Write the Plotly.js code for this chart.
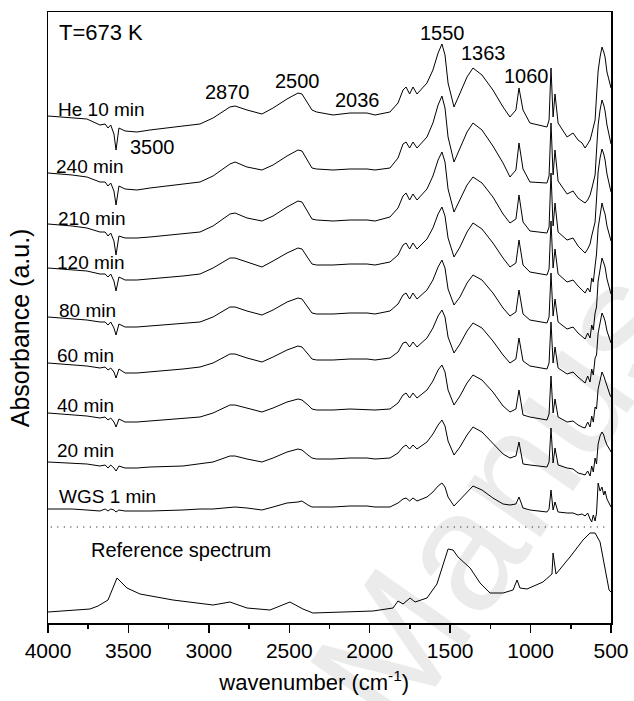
<!DOCTYPE html>
<html><head><meta charset="utf-8">
<script src="https://cdn.plot.ly/plotly-3.0.1.min.js"></script>
<style>html,body{margin:0;padding:0;background:#fff}#chart{width:634px;height:701px}</style>
</head><body><div id="chart"></div>
<script>
// wavenumber grid (cm-1) shared by the stacked in-situ spectra
const wavenumber = [4000,3850,3758,3677,3645,3627,3610,3590,3577,3559,3521,3447,3366,3161,3055,2974,2869,2837,2763,2670,2601,2514,2446,2421,2384,2359,2330,2228,2123,2017,1967,1874,1824,1793,1774,1752,1731,1706,1644,1607,1575,1551,1532,1513,1476,1439,1395,1358,1302,1234,1171,1128,1091,1072,1047,1004,898,885,873,860,848,829,773,736,705,680,661,645,630,620,610,599,590,580,568,556,545,537,525,506,500];

// absorbance (a.u.), relative to each spectrum's value at 4000 cm-1
const he10min = [0,-2,-3,-9,-8,-12,-9,-18,-34,-12,-15,-16,-14,-10,-8,-2,9,10,6,2,8,17,23,22,13,6,4,1,3,3,1,4,13,26,29,22,29,22,33,46,63,72,61,33,9,23,39,48,41,26,9,-1,6,28,6,-7,-11,-4,48,-1,22,-7,-21,-17,-24,-27,-32,-28,-24,-18,-10,-4,20,45,59,69,64,59,44,31,28];
const min240 = [0,-2,-4,-9,-9,-13,-10,-18,-32,-13,-16,-17,-15,-11,-9,-3,9,11,6,3,8,17,23,22,12,5,4,3,4,4,3,5,15,29,31,25,31,25,36,50,68,77,65,36,11,25,41,50,43,27,10,-4,3,30,4,-9,-10,-3,50,-2,23,-8,-21,-18,-25,-28,-30,-27,-22,-16,-8,-2,22,48,63,73,68,62,48,33,29];
const min210 = [0,-2,-4,-8,-8,-12,-9,-17,-31,-12,-14,-14,-13,-10,-8,-2,10,11,6,3,8,17,23,22,12,5,4,3,4,4,3,7,16,28,31,24,30,24,35,48,64,72,62,35,12,24,39,47,41,27,10,1,5,29,2,-7,-9,-3,51,-2,21,-8,-16,-14,-22,-26,-29,-25,-20,-12,-6,2,25,52,66,75,70,64,50,36,32];
const min120 = [0,-2,-3,-6,-6,-9,-6,-13,-23,-9,-12,-12,-11,-8,-6,0,10,10,6,1,7,15,20,19,10,4,3,3,4,4,3,6,13,23,25,19,25,19,29,40,54,61,52,30,11,21,36,45,39,25,10,1,5,28,3,-4,-7,-1,47,0,19,-6,-14,-12,-18,-22,-25,-20,-24,-10,-14,2,14,40,55,65,58,54,42,30,27];
const min80 = [0,-2,-3,-5,-5,-8,-5,-11,-18,-7,-10,-10,-9,-7,-5,0,10,10,6,2,7,15,19,18,10,4,3,3,4,4,3,6,13,22,24,18,24,18,27,37,50,57,49,28,12,20,34,42,37,24,9,1,5,27,3,-3,-6,0,44,1,18,-5,-12,-10,-16,-20,-22,-16,-21,-8,-13,4,10,36,50,59,54,50,38,26,23];
const min60 = [0,-2,-3,-5,-4,-7,-5,-9,-15,-6,-10,-10,-9,-6,-4,0,9,9,5,1,6,13,17,16,9,4,3,3,4,4,3,5,11,20,21,16,21,16,25,35,47,53,46,26,10,19,32,40,35,22,8,0,4,25,2,-3,-6,0,41,0,16,-5,-11,-9,-14,-18,-20,-13,-19,-6,-12,5,8,30,42,50,46,42,32,22,20];
const min40 = [0,-2,-3,-5,-4,-7,-5,-9,-14,-6,-9,-9,-8,-6,-4,0,8,8,5,1,5,11,14,13,8,4,3,3,4,3,3,4,10,18,20,15,20,15,23,32,43,48,41,23,8,17,30,38,33,21,7,1,4,23,-2,-4,-7,-1,37,0,14,-4,-9,-8,-12,-14,-15,-9,-14,-3,-9,6,4,24,34,41,37,33,26,18,16];
const min20 = [0,-1,-2,-4,-3,-6,-3,-6,-9,-4,-6,-6,-5,-4,-2,0,6,6,3,0,4,10,13,12,7,4,3,3,4,4,3,4,9,15,17,13,17,13,20,28,37,42,36,21,7,15,27,35,30,19,8,4,6,20,-2,-3,-5,0,34,-1,14,-3,-6,-7,-11,-12,-13,-9,-14,-4,-10,4,-2,18,26,30,27,22,17,12,10];
const wgs1min = [0,0,-1,-2,0,-2,0,-1,-3,-1,-2,-2,-2,-1,0,0,2,2,1,-1,2,6,7,8,4,2,2,2,3,3,2,2,6,10,11,8,11,8,12,17,23,26,22,12,3,9,17,23,19,11,5,4,5,12,1,-1,-3,0,19,-1,7,-3,-4,-4,-6,-5,-7,-4,-10,-13,-6,-12,-4,26,18,22,14,18,10,4,2];

// reference spectrum
const refWavenumber = [4000,3739,3689,3627,3571,3509,3428,3223,2974,2869,2763,2620,2496,2415,2353,2185,1980,1855,1824,1793,1749,1718,1644,1582,1513,1482,1451,1376,1314,1252,1171,1109,1084,1066,1022,923,867,860,842,755,674,630,599,568,537,512,500];
const refAbsorbance = [11,14,17,23,45,35,29,23,18,21,15,13,21,14,10,11,12,15,22,19,25,21,25,39,74,73,66,55,40,30,30,33,43,35,34,41,49,70,49,66,83,90,90,81,53,33,31];

const seriesNames = ['He 10 min','240 min','210 min','120 min','80 min','60 min','40 min','20 min','WGS 1 min'];
const seriesValues = [he10min,min240,min210,min120,min80,min60,min40,min20,wgs1min];
const peakLabels = ['3500','2870','2500','2036','1550','1363','1060'];
const tempLabel = 'T=673 K';
const refLabel = 'Reference spectrum';
const watermarkText = 'Manuscript';

// ---- presentation (stacking offsets, label positions) ----
const stackOffsets = [507,450,399,355,306,260,210,161,114];
const FONT = 'Liberation Sans, Arial, sans-serif';

const traces = seriesValues.map((vals, i) => ({
  x: wavenumber, y: vals.map(v => v + stackOffsets[i]),
  type: 'scatter', mode: 'lines', name: seriesNames[i],
  line: {color: '#000', width: 1}, hoverinfo: 'skip'
}));
traces.push({x: refWavenumber, y: refAbsorbance, type: 'scatter', mode: 'lines',
  name: refLabel, line: {color: '#000', width: 1}, hoverinfo: 'skip'});

const seriesLabelPos = [[3950,514],[3963,457],[3950,405],[3956,361],[3944,313],[3956,268],[3956,218],[3956,173],[3944,127]];
const peakLabelPos = [[3503,476],[3036,531],[2601,542],[2228,523],[1700,590],[1445,570],[1178,547]];

const annotations = [];
// faint publisher watermark (very light, partly outside the figure as in the original)
annotations.push({x: 0.96, y: 0.42, xref:'paper', yref:'paper', text: watermarkText, showarrow: false,
  textangle: -55, xanchor:'center', yanchor:'middle',
  font: {family: FONT, size: 170, color: 'rgba(0,0,0,0.08)'}});
seriesNames.forEach((t, i) => annotations.push({x: seriesLabelPos[i][0], y: seriesLabelPos[i][1], xref:'x', yref:'y',
  text: t, showarrow: false, xanchor: 'left', yanchor: 'middle', font: {family: FONT, size: 19, color: '#000'}}));
peakLabels.forEach((t, i) => annotations.push({x: peakLabelPos[i][0], y: peakLabelPos[i][1], xref:'x', yref:'y',
  text: t, showarrow: false, xanchor: 'left', yanchor: 'middle', font: {family: FONT, size: 20, color: '#000'}}));
annotations.push({x: 3944, y: 591, xref:'x', yref:'y', text: tempLabel, showarrow: false, xanchor:'left', yanchor:'middle',
  font: {family: FONT, size: 22, color: '#000'}});
annotations.push({x: 3745, y: 73, xref:'x', yref:'y', text: refLabel, showarrow: false, xanchor:'left', yanchor:'middle',
  font: {family: FONT, size: 20, color: '#000'}});

const layout = {
  width: 634, height: 701,
  margin: {l: 48, r: 23, t: 12, b: 78},
  paper_bgcolor: '#fff', plot_bgcolor: '#fff',
  showlegend: false,
  font: {family: FONT, color: '#000'},
  xaxis: {
    range: [4000, 500], tick0: 500, dtick: 500,
    ticks: 'outside', ticklen: 8, tickwidth: 1.5, tickcolor: '#000',
    showline: true, linewidth: 1.5, linecolor: '#000', mirror: true,
    showgrid: false, zeroline: false,
    tickfont: {family: FONT, size: 21, color: '#000'},
    minor: {dtick: 250, ticks: 'outside', ticklen: 4, tickwidth: 1.5, tickcolor: '#000', showgrid: false},
    title: {text: 'wavenumber (cm<sup>-1</sup>)&nbsp;&nbsp;&nbsp;&nbsp;&nbsp;', font: {family: FONT, size: 22, color: '#000'}, standoff: 14}
  },
  yaxis: {
    range: [0, 611], showticklabels: false, ticks: '',
    showline: true, linewidth: 1.5, linecolor: '#000', mirror: true,
    showgrid: false, zeroline: false,
    title: {text: 'Absorbance (a.u.)&nbsp;&nbsp;&nbsp;', font: {family: FONT, size: 25, color: '#000'}, standoff: 10}
  },
  shapes: [{type: 'line', xref: 'paper', yref: 'y', x0: 0.005, x1: 0.995, y0: 96, y1: 96,
    line: {color: '#000', width: 1.2, dash: '1px,5.5px'}}],
  annotations: annotations
};

Plotly.newPlot('chart', traces, layout, {staticPlot: true, displayModeBar: false});
</script></body></html>
